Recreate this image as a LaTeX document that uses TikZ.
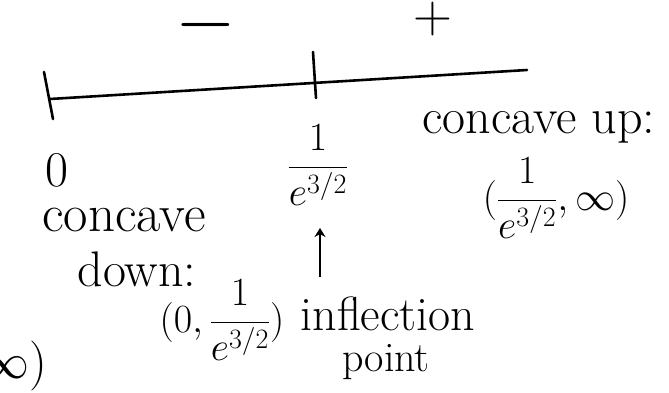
\RequirePackage{fix-cm}
\documentclass[tikz,border=0pt]{standalone}
\usepackage{tikz}
\usetikzlibrary{positioning,arrows.meta}
\usepackage{amsmath}

\begin{document}
\begin{tikzpicture}[
  x=1pt, y=-1pt,
  ink/.style={line width=2.6pt, line cap=round},
  hand/.style={inner sep=0pt, font=\fontsize{50}{54}\selectfont},
  handmath/.style={inner sep=0pt, font=\fontsize{40}{44}\selectfont},
  signmark/.style={inner sep=0pt, text height=0.6em, text depth=0.09em},
  arr/.style={-{Stealth[length=9pt,width=11pt]}, line width=2.4pt}
]
\useasboundingbox (0,0) rectangle (669,393);
\clip (0,0) rectangle (669,393);
% number line
\coordinate (lstart) at (50,99);
\coordinate (lend) at (527,70);
\coordinate (ltop) at (44,72);
\coordinate (lbot) at (53,119);
\coordinate (mtop) at (313,52);
\coordinate (mbot) at (316,98);
\draw[ink] (lstart) -- (lend);
\draw[ink] (ltop) -- (lbot);
\draw[ink] (mtop) -- (mbot);
% signs
\node[signmark, font=\fontsize{78}{80}\selectfont] (minus) at (206,42) {$-$};
\node[signmark, font=\fontsize{54}{58}\selectfont] (plus) at (433,30) {$+$};
% labels under the line
\node[hand] (zero) at (57,170) {$0$};
\node[handmath] (crit) at (318,165) {$\dfrac{1}{e^{3/2}}$};
\node[hand, font=\fontsize{53}{57}\selectfont] (cdown) at (124,220) {concave};
\node[hand] (down) at (137,269) {down:};
\node[handmath] (ivdown) at (222,320) {$(0,\dfrac{1}{e^{3/2}})$};
\node[hand] (cup) at (539,127) {concave up:};
\node[handmath] (ivup) at (556,198) {$(\dfrac{1}{e^{3/2}},\infty)$};
\node[hand, font=\fontsize{48}{52}\selectfont] (infl) at (388,314) {inflection};
\node[hand, font=\fontsize{42}{46}\selectfont] (point) at (386,362) {point};
\node[hand, anchor=east] (cut) at (47,366) {$\infty)$};
% arrow to the inflection point
\coordinate (afoot) at (320,277);
\coordinate (atip) at (320,228);
\draw[arr] (afoot) -- (atip);
\end{tikzpicture}
\end{document}
